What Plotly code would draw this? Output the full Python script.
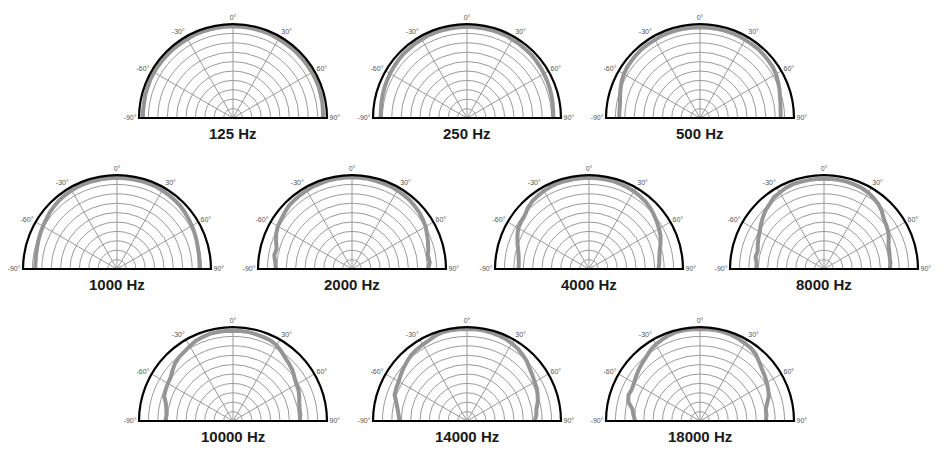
import plotly.graph_objects as go

# angles, -90 .. 90 in 5 degree steps
angles = list(range(-90, 95, 5))

freq_labels = ["125 Hz", "250 Hz", "500 Hz",
               "1000 Hz", "2000 Hz", "4000 Hz", "8000 Hz",
               "10000 Hz", "14000 Hz", "18000 Hz"]

# relative level, 1.0 = outer ring
r_125 = [0.96, 0.96, 0.96, 0.965, 0.965, 0.97, 0.97, 0.97, 0.97, 0.97, 0.97, 0.97, 0.97, 0.975, 0.975, 0.975, 0.975, 0.975, 0.975,
         0.975, 0.975, 0.975, 0.975, 0.975, 0.97, 0.97, 0.97, 0.97, 0.97, 0.97, 0.97, 0.97, 0.97, 0.965, 0.965, 0.96, 0.96]
r_250 = [0.92, 0.92, 0.925, 0.93, 0.935, 0.94, 0.945, 0.95, 0.955, 0.96, 0.96, 0.965, 0.965, 0.97, 0.97, 0.97, 0.97, 0.97, 0.97,
         0.97, 0.97, 0.97, 0.97, 0.97, 0.965, 0.965, 0.96, 0.96, 0.955, 0.95, 0.945, 0.94, 0.935, 0.93, 0.925, 0.92, 0.92]
r_500 = [0.86, 0.86, 0.865, 0.88, 0.90, 0.92, 0.935, 0.945, 0.95, 0.955, 0.96, 0.96, 0.96, 0.965, 0.965, 0.965, 0.965, 0.965, 0.965,
         0.965, 0.965, 0.965, 0.965, 0.965, 0.96, 0.96, 0.96, 0.955, 0.95, 0.945, 0.935, 0.915, 0.90, 0.88, 0.87, 0.86, 0.86]
r_1000 = [0.87, 0.87, 0.875, 0.88, 0.89, 0.90, 0.91, 0.92, 0.935, 0.945, 0.955, 0.96, 0.965, 0.97, 0.97, 0.97, 0.97, 0.97, 0.97,
          0.97, 0.97, 0.97, 0.97, 0.97, 0.965, 0.96, 0.955, 0.95, 0.94, 0.93, 0.92, 0.91, 0.90, 0.89, 0.885, 0.88, 0.88]
r_2000 = [0.81, 0.82, 0.84, 0.83, 0.86, 0.89, 0.91, 0.92, 0.935, 0.95, 0.955, 0.96, 0.965, 0.97, 0.97, 0.975, 0.975, 0.975, 0.975,
          0.975, 0.975, 0.97, 0.97, 0.97, 0.965, 0.96, 0.955, 0.945, 0.935, 0.92, 0.905, 0.88, 0.86, 0.84, 0.82, 0.83, 0.81]
r_4000 = [0.75, 0.75, 0.76, 0.78, 0.81, 0.84, 0.87, 0.88, 0.89, 0.92, 0.94, 0.95, 0.96, 0.965, 0.97, 0.97, 0.97, 0.97, 0.97,
          0.97, 0.97, 0.97, 0.965, 0.96, 0.955, 0.945, 0.935, 0.92, 0.90, 0.88, 0.86, 0.84, 0.81, 0.78, 0.76, 0.75, 0.74]
r_8000 = [0.72, 0.72, 0.74, 0.73, 0.75, 0.77, 0.79, 0.82, 0.85, 0.88, 0.90, 0.93, 0.94, 0.955, 0.96, 0.96, 0.96, 0.96, 0.96,
          0.96, 0.96, 0.96, 0.955, 0.95, 0.94, 0.92, 0.90, 0.87, 0.83, 0.81, 0.79, 0.76, 0.73, 0.72, 0.71, 0.71, 0.70]
r_10000 = [0.72, 0.71, 0.72, 0.74, 0.78, 0.79, 0.80, 0.81, 0.84, 0.87, 0.89, 0.90, 0.92, 0.94, 0.95, 0.96, 0.96, 0.96, 0.96,
           0.96, 0.96, 0.955, 0.95, 0.945, 0.93, 0.90, 0.87, 0.85, 0.83, 0.80, 0.78, 0.77, 0.75, 0.73, 0.72, 0.72, 0.71]
r_14000 = [0.72, 0.73, 0.75, 0.78, 0.82, 0.83, 0.84, 0.86, 0.88, 0.90, 0.92, 0.93, 0.94, 0.95, 0.97, 0.98, 0.98, 0.98, 0.98,
           0.98, 0.98, 0.975, 0.97, 0.965, 0.955, 0.94, 0.92, 0.90, 0.87, 0.85, 0.83, 0.82, 0.80, 0.78, 0.75, 0.74, 0.72]
r_18000 = [0.69, 0.71, 0.73, 0.79, 0.81, 0.80, 0.81, 0.83, 0.85, 0.87, 0.89, 0.92, 0.94, 0.955, 0.97, 0.98, 0.98, 0.98, 0.98,
           0.98, 0.98, 0.98, 0.975, 0.965, 0.955, 0.945, 0.925, 0.89, 0.86, 0.84, 0.82, 0.80, 0.78, 0.74, 0.71, 0.71, 0.70]

series = [r_125, r_250, r_500, r_1000, r_2000, r_4000, r_8000, r_10000, r_14000, r_18000]

tick_vals = [-90, -60, -30, 0, 30, 60, 90]
tick_text = ["-90°", "-60°", "-30°", "0°", "30°", "60°", "90°"]

# the page body has an 8px margin, so the figure is drawn 8px in from the corner
PAD = 8
W, H = 944 - PAD, 450 - PAD
R = 94
# centre x and baseline y of each half circle, in window pixels
centres = [(233, 118), (467, 118), (700, 118),
           (117, 269), (352, 269), (589, 269), (824, 269),
           (233, 421), (467, 421), (700, 421)]

fig = go.Figure()
layout = {}
annotations = []

for i, (sx, sy) in enumerate(centres):
    cx, cy = sx - PAD, sy - PAD
    key = "polar" if i == 0 else "polar%d" % (i + 1)

    fig.add_trace(go.Scatterpolar(
        r=series[i], theta=angles, mode="lines",
        line=dict(color="#959595", width=4),
        subplot=key, showlegend=False, hoverinfo="skip",
    ))

    layout[key] = dict(
        domain=dict(x=[(cx - R) / W, (cx + R) / W],
                    y=[(H - cy) / H, (H - cy + R) / H]),
        sector=[0, 180],
        bgcolor="white",
        angularaxis=dict(
            rotation=90, direction="clockwise",
            tickmode="array", tickvals=tick_vals, ticktext=tick_text,
            tickfont=dict(size=7, color="#555555", family="Liberation Sans"),
            ticks="", showline=True, linecolor="black", linewidth=2.2,
            gridcolor="#9a9a9a", gridwidth=0.8,
        ),
        radialaxis=dict(
            range=[0, 1], tick0=0, dtick=0.1,
            showticklabels=False, ticks="", showline=False,
            gridcolor="#9a9a9a", gridwidth=0.8,
        ),
    )

    annotations.append(dict(
        text=freq_labels[i], x=cx / W, y=(H - cy - 15) / H,
        xref="paper", yref="paper", showarrow=False,
        xanchor="center", yanchor="middle",
        font=dict(size=15, color="#1a1a1a", family="Liberation Sans", weight="bold"),
    ))

fig.update_layout(
    width=W, height=H,
    margin=dict(l=0, r=0, t=0, b=0),
    paper_bgcolor="white",
    plot_bgcolor="white",
    annotations=annotations,
    **layout,
)

fig.write_html("out.html")
